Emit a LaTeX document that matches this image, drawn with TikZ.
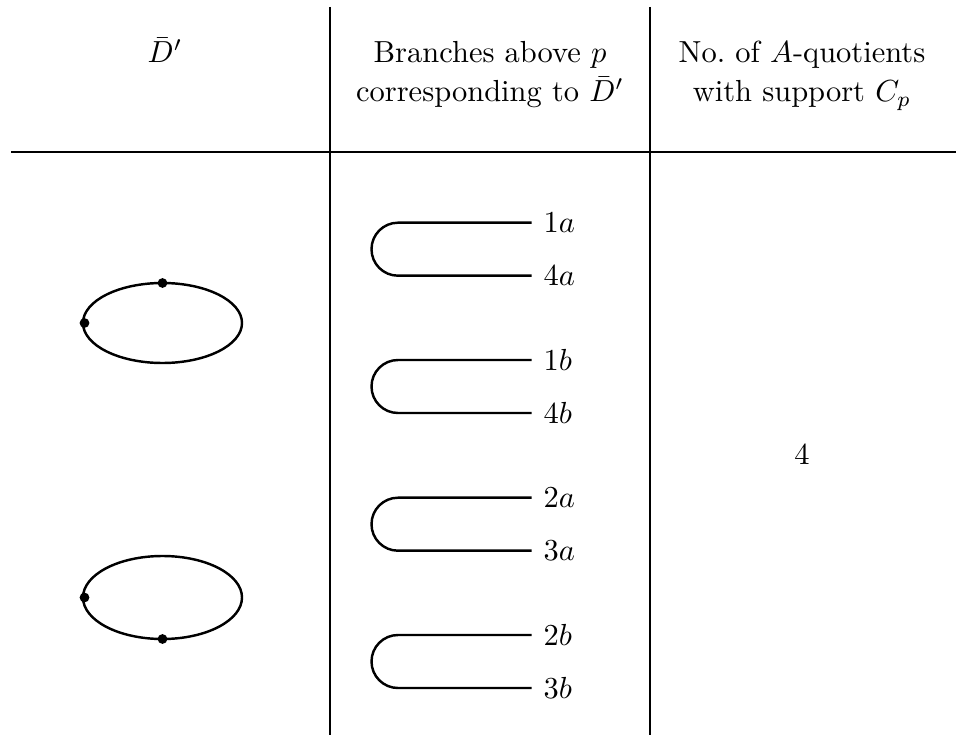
\documentclass[tikz,border=0pt]{standalone}
\begin{document}
\begin{tikzpicture}[x=0.328pt,y=-0.328pt,
  rule/.style={line width=0.4pt},
  hrule/.style={line width=0.6pt},
  curve/.style={line width=0.8pt},
  pt/.style={circle,fill=black,inner sep=0pt,minimum size=3.2pt},
  lab/.style={anchor=west,inner sep=0pt},
  head/.style={anchor=base,inner sep=0pt}]
\useasboundingbox (0,0) rectangle (956,735);
% rules
\draw[rule] (330,7) -- (330,735);
\draw[rule] (650,7) -- (650,735);
\draw[hrule] (11,152) -- (956,152);
% header
\node[head] (h1) at (165,63) {$\bar D'$};
\node[head] (h2a) at (490,63) {Branches above $p$};
\node[head] (h2b) at (490,102) {corresponding to $\bar D'$};
\node[head] (h3a) at (802,63) {No.\ of $A$-quotients};
\node[head] (h3b) at (802,102) {with support $C_p$};
% ellipses
\draw[curve] (162.5,323) ellipse [x radius=79.5, y radius=40];
\node[pt] (e1t) at (162.5,283) {};
\node[pt] (e1l) at (84.5,323) {};
\draw[curve] (162.5,597.5) ellipse [x radius=79.5, y radius=41.5];
\node[pt] (e2l) at (84.5,597.5) {};
\node[pt] (e2b) at (162.5,639) {};
% branches
\foreach \t/\u/\v in {222.7/1a/4a, 360/1b/4b, 497.7/2a/3a, 635/2b/3b}{
  \draw[curve] (531.7,\t) -- (398,\t) arc[start angle=270,end angle=90,radius=26.5] -- (531.7,\t+53);
  \node[lab] at (543,\t) {$\u$};
  \node[lab] at (543,\t+53) {$\v$};
}
\node (n4) at (802,455) {$4$};
\end{tikzpicture}
\end{document}
